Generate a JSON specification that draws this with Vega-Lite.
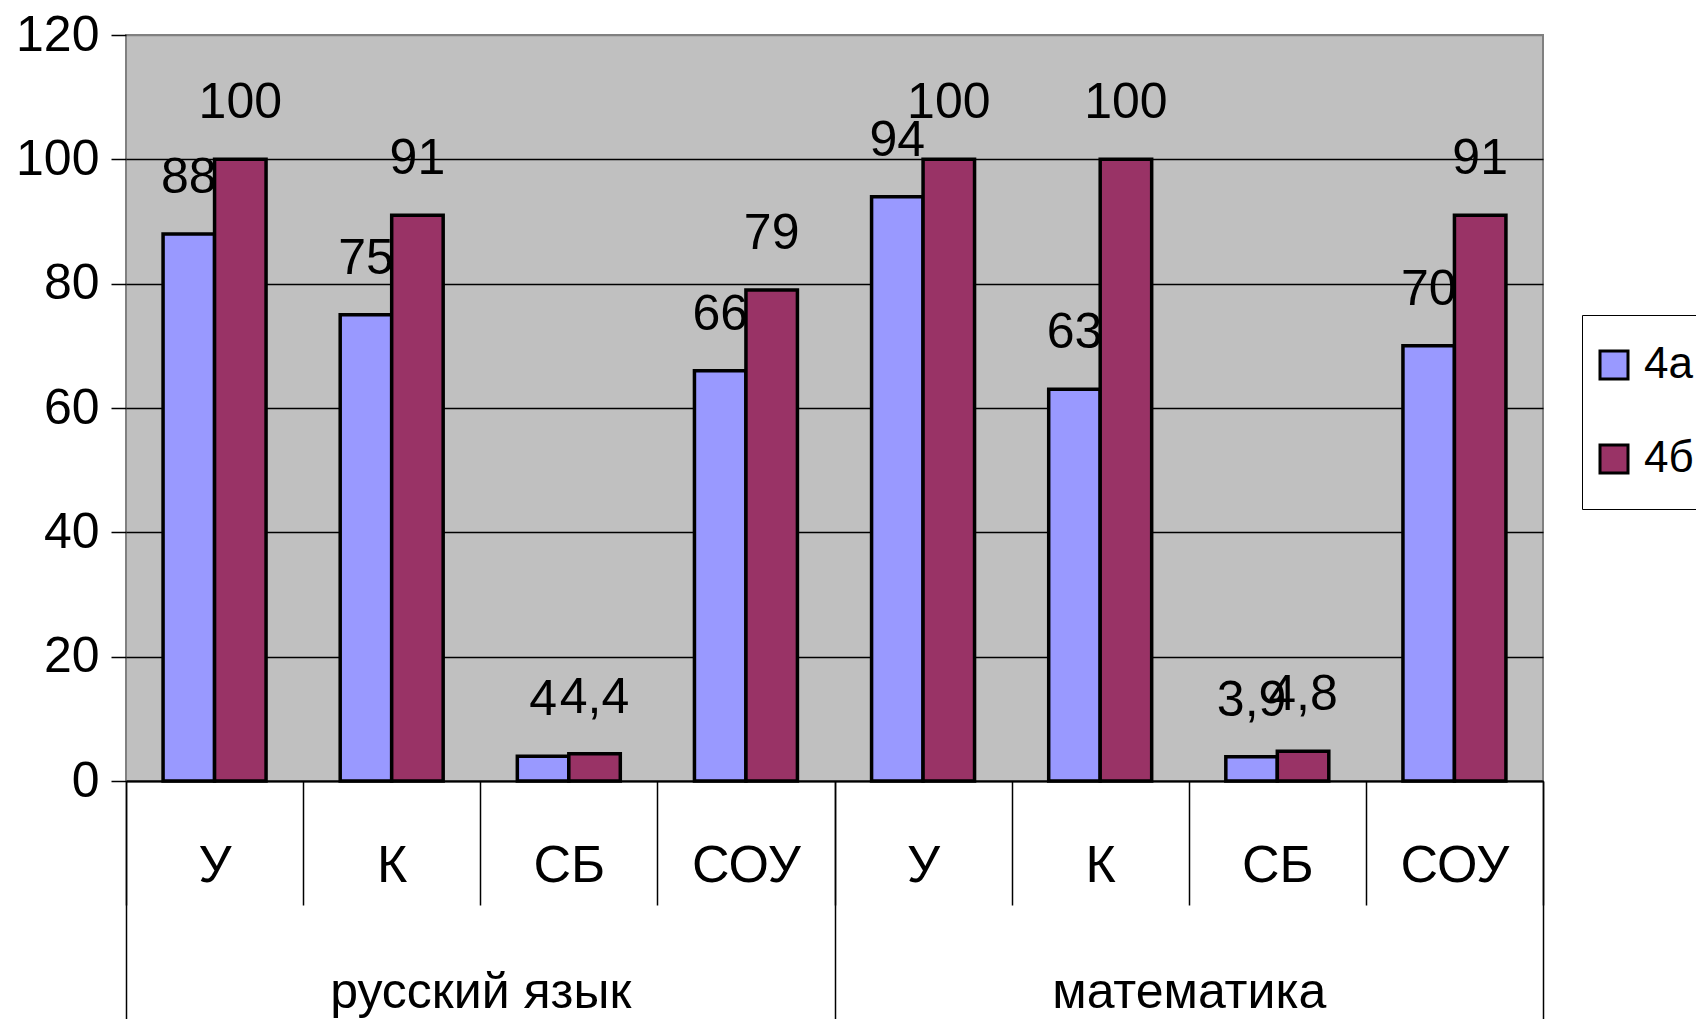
{
  "$schema": "https://vega.github.io/schema/vega-lite/v6.json",
  "width": 1417,
  "height": 746,
  "autosize": {"type": "none"},
  "padding": {"left": 126, "top": 35, "right": 153, "bottom": 238},
  "background": "white",
  "config": {
    "locale": {"number": {"decimal": ",", "thousands": " ", "grouping": [3], "currency": ["", ""]}},
    "view": {"fill": "#C0C0C0", "stroke": "#808080", "strokeWidth": 2},
    "font": "Liberation Sans"
  },
  "data": {
    "values": [
      {"group": "русский язык", "cat": "русский язык|У", "class": "4а", "value": 88},
      {"group": "русский язык", "cat": "русский язык|У", "class": "4б", "value": 100},
      {"group": "русский язык", "cat": "русский язык|К", "class": "4а", "value": 75},
      {"group": "русский язык", "cat": "русский язык|К", "class": "4б", "value": 91},
      {"group": "русский язык", "cat": "русский язык|СБ", "class": "4а", "value": 4},
      {"group": "русский язык", "cat": "русский язык|СБ", "class": "4б", "value": 4.4},
      {"group": "русский язык", "cat": "русский язык|СОУ", "class": "4а", "value": 66},
      {"group": "русский язык", "cat": "русский язык|СОУ", "class": "4б", "value": 79},
      {"group": "математика", "cat": "математика|У", "class": "4а", "value": 94},
      {"group": "математика", "cat": "математика|У", "class": "4б", "value": 100},
      {"group": "математика", "cat": "математика|К", "class": "4а", "value": 63},
      {"group": "математика", "cat": "математика|К", "class": "4б", "value": 100},
      {"group": "математика", "cat": "математика|СБ", "class": "4а", "value": 3.9},
      {"group": "математика", "cat": "математика|СБ", "class": "4б", "value": 4.8},
      {"group": "математика", "cat": "математика|СОУ", "class": "4а", "value": 70},
      {"group": "математика", "cat": "математика|СОУ", "class": "4б", "value": 91}
    ]
  },
  "layer": [
    {
      "encoding": {
        "x": {
          "field": "cat", "type": "nominal", "sort": null,
          "scale": {"paddingInner": 0, "paddingOuter": 0},
          "axis": {
            "orient": "bottom", "title": null, "labelAngle": 0,
            "labelExpr": "split(datum.label, '|')[1]",
            "tickBand": "extent", "tickSize": 124, "tickColor": "black", "tickWidth": 1.5,
            "domainColor": "black", "domainWidth": 2,
            "labelBaseline": "middle", "labelPadding": -40, "labelLimit": 0,
            "labelFontSize": 52, "labelColor": "black", "labelOverlap": false
          }
        },
        "xOffset": {"field": "class", "type": "nominal", "sort": null, "scale": {"paddingInner": 0, "paddingOuter": 0.72}},
        "y": {
          "field": "value", "type": "quantitative",
          "scale": {"domain": [0, 120]},
          "axis": {
            "title": null, "values": [0, 20, 40, 60, 80, 100, 120],
            "domain": false, "tickSize": 15, "tickColor": "black", "tickWidth": 1.5,
            "labelPadding": 12, "labelFontSize": 50, "labelColor": "black", "labelLimit": 0,
            "gridColor": {"condition": {"test": "datum.value === 120", "value": "#808080"}, "value": "black"},
            "gridWidth": 1.5, "gridOpacity": 1
          }
        }
      },
      "layer": [
        {
          "mark": {"type": "bar", "stroke": "black", "strokeWidth": 3.5},
          "encoding": {
            "color": {
              "field": "class", "type": "nominal",
              "scale": {"domain": ["4а", "4б"], "range": ["#9999FF", "#993366"]},
              "legend": {
                "title": null, "orient": "none", "legendX": 1456, "legendY": 280,
                "symbolType": "square", "symbolSize": 784, "symbolStrokeColor": "black", "symbolStrokeWidth": 3,
                "symbolOpacity": 1, "symbolOffset": -18,
                "labelFontSize": 44, "labelColor": "black", "labelOffset": 8, "labelLimit": 0,
                "strokeColor": "black", "fillColor": "white", "padding": 28, "rowPadding": 50
              }
            }
          }
        },
        {
          "mark": {"type": "text", "baseline": "alphabetic", "dy": -41, "fontSize": 50, "color": "black"},
          "encoding": {"text": {"field": "value", "type": "quantitative", "format": "~g"}}
        }
      ]
    },
    {
      "mark": {"type": "point", "opacity": 0},
      "encoding": {
        "x": {
          "field": "group", "type": "nominal", "sort": null,
          "scale": {"paddingInner": 0, "paddingOuter": 0},
          "axis": {
            "orient": "bottom", "title": null, "labelAngle": 0, "domain": false,
            "tickBand": "extent", "tickSize": 238, "tickColor": "black", "tickWidth": 1.5,
            "labelBaseline": "middle", "labelPadding": -27, "labelLimit": 0,
            "labelFontSize": 50, "labelColor": "black"
          }
        }
      }
    }
  ],
  "resolve": {"scale": {"x": "independent"}, "axis": {"x": "independent"}}
}
